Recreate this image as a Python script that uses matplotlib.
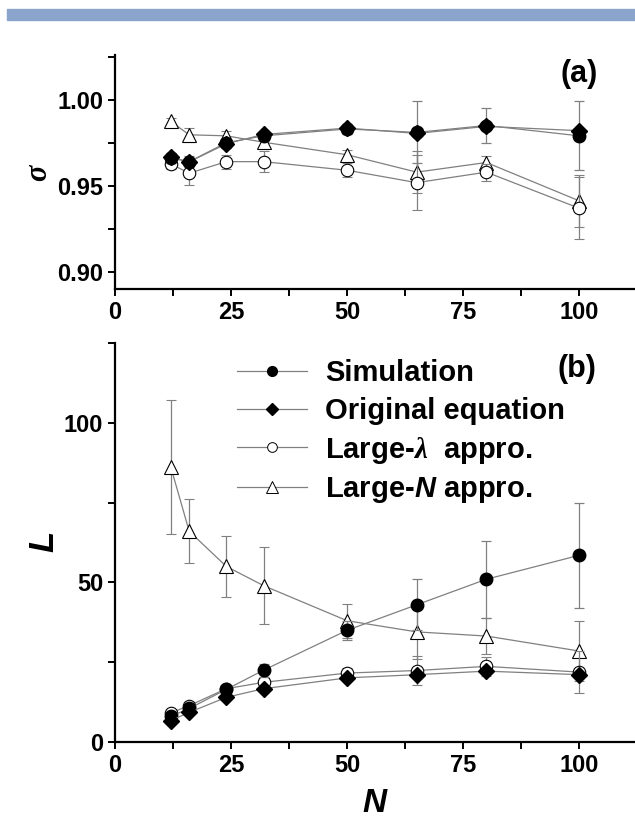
import numpy as np
import matplotlib
matplotlib.use('Agg')
import matplotlib.pyplot as plt
from matplotlib.patches import Rectangle
from matplotlib.lines import Line2D
from matplotlib.ticker import MultipleLocator

plt.rcParams['font.family'] = 'Liberation Sans'
plt.rcParams['font.weight'] = 'bold'
plt.rcParams['mathtext.fontset'] = 'custom'
plt.rcParams['mathtext.rm'] = 'Liberation Sans:bold'
plt.rcParams['mathtext.it'] = 'Liberation Serif:italic'
plt.rcParams['mathtext.bf'] = 'Liberation Sans:bold'
plt.rcParams['mathtext.bfit'] = 'Liberation Sans:bold:italic'

# Datos
N = [12, 16, 24, 32, 50, 65, 80, 100]

# panel (a): sigma
sim_a = [0.966, 0.964, 0.975, 0.979, 0.983, 0.981, 0.985, 0.979]
sim_a_err = [0.003, 0.003, 0.003, 0.003, 0.003, 0.018, 0.010, 0.020]
orig_a = [0.9666, 0.9639, 0.9744, 0.9798, 0.9835, 0.9804, 0.9845, 0.982]
lam_a = [0.9627, 0.9573, 0.964, 0.964, 0.959, 0.9518, 0.9579, 0.9369]
lam_a_err = [0.003, 0.007, 0.004, 0.006, 0.004, 0.016, 0.005, 0.018]
bigN_a = [0.9874, 0.9796, 0.979, 0.9753, 0.968, 0.9579, 0.9635, 0.9412]
bigN_a_err = [0.002, 0.004, 0.003, 0.004, 0.003, 0.012, 0.004, 0.015]

# panel (b): L
sim_b = [8.0, 10.5, 16.5, 22.5, 35.0, 43.0, 51.0, 58.5]
sim_b_err = [1, 1, 1.5, 2, 3, 8, 12, 16.5]
orig_b = [6.7, 9.3, 14.0, 16.7, 20.1, 21.1, 22.2, 21.1]
lam_b = [9.1, 11.4, 16.7, 18.7, 21.6, 22.4, 23.7, 21.9]
lam_b_err = [1, 1, 1, 1, 1.5, 4.5, 3, 6.5]
bigN_b = [86.3, 66.0, 55.0, 49.0, 38.0, 34.5, 33.2, 28.5]
bigN_b_err = [21, 10, 9.6, 12, 5.3, 8.5, 5.5, 9.5]

labels = ['Simulation', 'Original equation', r'Large-$\lambda$  appro.', r'Large-$\mathbfit{N}$ appro.']

fig = plt.figure(figsize=(6.35, 8.24), dpi=100)
fig.patches.append(Rectangle((7 / 635, 1 - 20 / 824), 628 / 635, 11 / 824,
                             transform=fig.transFigure, color='#8ba4cb', zorder=0))

ax1 = fig.add_axes([0.181, 0.6493, 0.819, 0.284])
ax2 = fig.add_axes([0.181, 0.0995, 0.819, 0.4842])

gray = '#808080'
line_kw = dict(color=gray, lw=0.9, ecolor=gray, elinewidth=0.9, capsize=3.5, capthick=0.9)


def draw(ax, sim, sim_err, orig, lam, lam_err, bign, bign_err):
    ax.errorbar(N, bign, yerr=bign_err, marker='^', ms=10.5, mfc='white', mec='black',
                mew=0.8, zorder=2, **line_kw)
    ax.errorbar(N, lam, yerr=lam_err, marker='o', ms=9, mfc='white', mec='black',
                mew=0.8, zorder=3, **line_kw)
    ax.errorbar(N, sim, yerr=sim_err, marker='o', ms=9, mfc='black', mec='black',
                zorder=4, **line_kw)
    ax.plot(N, orig, marker='D', ms=8.5, mfc='black', mec='black', color=gray, lw=0.9, zorder=5)
    for s in ['top', 'right']:
        ax.spines[s].set_visible(False)
    for s in ['left', 'bottom']:
        ax.spines[s].set_linewidth(1.6)
    ax.set_xlim(0, 112)
    ax.xaxis.set_major_locator(MultipleLocator(25))
    ax.xaxis.set_minor_locator(MultipleLocator(12.5))
    ax.tick_params(which='both', direction='out', width=1.4, length=5, labelsize=17)
    for lab in ax.get_xticklabels() + ax.get_yticklabels():
        lab.set_fontweight('bold')


draw(ax1, sim_a, sim_a_err, orig_a, lam_a, lam_a_err, bigN_a, bigN_a_err)
ax1.set_ylim(0.89, 1.026)
ax1.yaxis.set_major_locator(MultipleLocator(0.05))
ax1.yaxis.set_minor_locator(MultipleLocator(0.025))
ax1.yaxis.set_major_formatter(matplotlib.ticker.FormatStrFormatter('%.2f'))
ax1.set_ylabel(r'$\sigma$', fontsize=22, labelpad=2)
ax1.text(0.929, 0.92, '(a)', transform=ax1.transAxes, fontsize=22, fontweight='bold',
         ha='right', va='center')

draw(ax2, sim_b, sim_b_err, orig_b, lam_b, lam_b_err, bigN_b, bigN_b_err)
ax2.set_ylim(0, 125)
ax2.yaxis.set_major_locator(MultipleLocator(50))
ax2.yaxis.set_minor_locator(MultipleLocator(25))
ax2.set_ylabel(r'$\mathbfit{L}$', fontsize=25, labelpad=2)
ax2.set_xlabel(r'$\mathbfit{N}$', fontsize=24, labelpad=8)
ax2.text(0.925, 0.935, '(b)', transform=ax2.transAxes, fontsize=22, fontweight='bold',
         ha='right', va='center')

handles = [
    Line2D([], [], color=gray, lw=0.9, marker='o', ms=7, mfc='black', mec='black'),
    Line2D([], [], color=gray, lw=0.9, marker='D', ms=6.5, mfc='black', mec='black'),
    Line2D([], [], color=gray, lw=0.9, marker='o', ms=7, mfc='white', mec='black', mew=0.7),
    Line2D([], [], color=gray, lw=0.9, marker='^', ms=8, mfc='white', mec='black', mew=0.7),
]
leg = ax2.legend(handles, labels, loc='upper left', bbox_to_anchor=(0.185, 1.025),
                 frameon=False, prop={'size': 21, 'weight': 'bold'},
                 handlelength=2.4, handletextpad=0.6, labelspacing=0.33)

fig.savefig('out.png', dpi=100)
